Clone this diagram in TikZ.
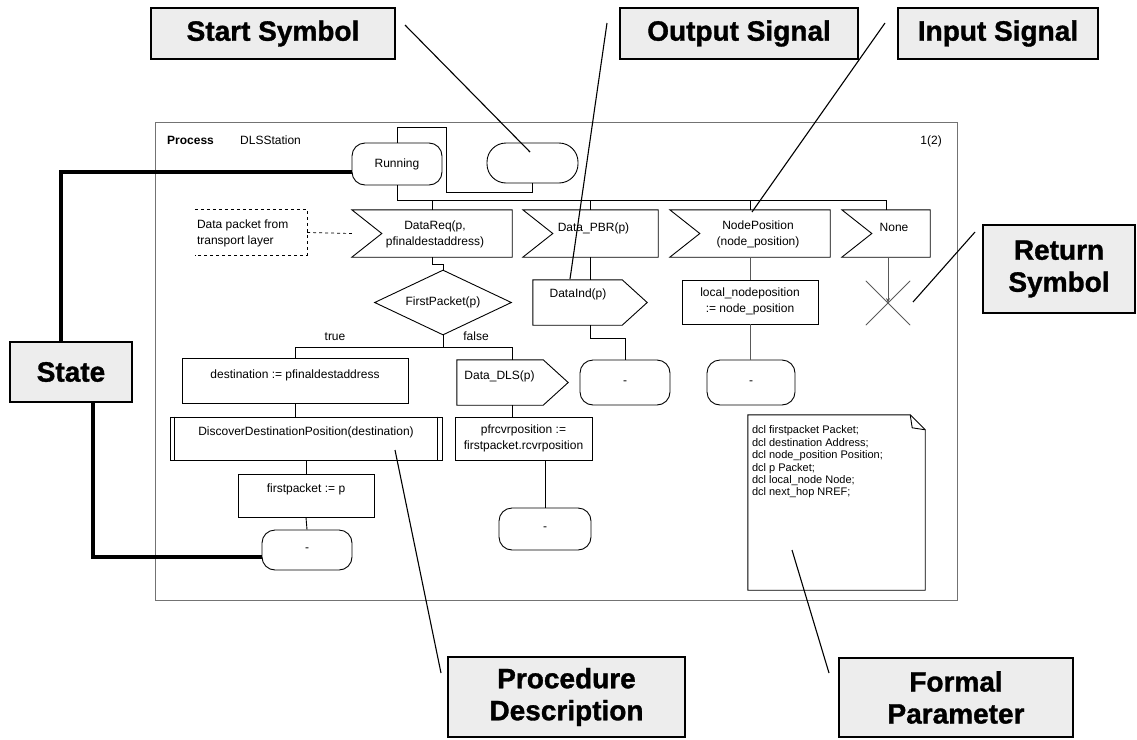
\documentclass[tikz,border=0pt]{standalone}
\usepackage{fontspec}
\setmainfont{Liberation Sans}
\newfontfamily\calloutfont[UprightFeatures={FakeBold=1.2}]{Liberation Sans Bold}
\usetikzlibrary{shapes.geometric,calc,arrows.meta}

\tikzset{
  ghost/.style={draw=none, inner sep=0pt, rectangle},
  sym/.style={draw=black, line width=0.9pt, inner sep=0pt, rectangle},
  statebox/.style={sym, rounded corners=13pt},
  txt/.style={font=\fontsize{12}{16}\selectfont, inner sep=0pt, align=center},
  notetxt/.style={font=\fontsize{11}{12.4}\selectfont, inner sep=0pt, align=left},
  flow/.style={draw=black, line width=0.9pt},
  faint/.style={draw=black!65, line width=0.8pt},
  callout/.style={draw=black, line width=2pt, fill=black!7, inner sep=0pt,
    font=\fontsize{28}{32}\calloutfont, align=center},
  leader/.style={draw=black, line width=1.1pt},
  heavy/.style={draw=black, line width=3.6pt},
}

% SDL input symbol: notch cut into the left side
\newcommand\inputsig[1]{%
  \draw[flow] (#1.north west) -- (#1.north east) -- (#1.south east)
    -- (#1.south west) -- ($(#1.west)+(30,0)$) -- cycle;}
% SDL output symbol: pointed right side
\newcommand\outputsig[1]{%
  \draw[flow] (#1.north west) -- ($(#1.north east)+(-25,0)$) -- (#1.east)
    -- ($(#1.south east)+(-25,0)$) -- (#1.south west) -- cycle;}

\begin{document}
\begin{tikzpicture}[x=1pt,y=-1pt]
\useasboundingbox (0,0) rectangle (1137,739);

% process frame
\node[ghost, draw=black!55, line width=0.8pt, minimum width=802, minimum height=478] (frame) at (556,361) {};
\node[anchor=base west, inner sep=0pt, font=\fontsize{12}{14}\selectfont\bfseries] (kw) at (167,144) {Process};
\node[anchor=base west, inner sep=0pt, font=\fontsize{12}{14}\selectfont] (pname) at (240,144) {DLSStation};
\node[anchor=base east, inner sep=0pt, font=\fontsize{12}{14}\selectfont] (page) at (942,144) {1(2)};

% start symbol and first state
\node[sym, rounded corners=19pt, minimum width=91, minimum height=40] (start) at (532.5,163) {};
\node[statebox, minimum width=90, minimum height=42, txt] (running) at (397,164) {Running};
\draw[flow] (start.south) -- ++(0,9) -| (446,127) -| (running.north);

% input signals
\coordinate (bus) at (0,200);
\node[ghost, minimum width=160, minimum height=47] (datareq) at (432,233.5) {};
\node[ghost, minimum width=135, minimum height=47] (datapbr) at (590.5,233.5) {};
\node[ghost, minimum width=160, minimum height=47] (nodepos) at (750,233.5) {};
\node[ghost, minimum width=88, minimum height=47] (none) at (886,233.5) {};
\inputsig{datareq}\inputsig{datapbr}\inputsig{nodepos}\inputsig{none}
\node[txt, anchor=north] (datareq-t) at ($(datareq.north)+(3,11)$) {DataReq(p,\\pfinaldestaddress)};
\node[txt, anchor=north] (datapbr-t) at ($(datapbr.north)+(3,13)$) {Data\_PBR(p)};
\node[txt, anchor=north] (nodepos-t) at ($(nodepos.north)+(8,11)$) {NodePosition\\(node\_position)};
\node[txt, anchor=north] (none-t) at ($(none.north)+(8,13)$) {None};
\draw[flow] (running.south) -- (running.south |- bus) -- (none.north |- bus);
\foreach \s in {datareq,datapbr,nodepos,none}
  \draw[flow] (\s.north |- bus) -- (\s.north);

% comment attached to DataReq
\node[ghost, minimum width=112, minimum height=45] (comment) at (251,232.5) {};
\draw[flow, dashed, line width=0.7pt] (comment.north west) -- (comment.north east) -- (comment.south east) -- (comment.south west);
\node[txt, align=left, anchor=north west] (comment-t) at ($(comment.north west)+(2,10)$) {Data packet from\\transport layer};
\draw[flow, dashed, line width=0.7pt] (comment.east) -- (datareq.west);

% decision
\node[sym, shape=diamond, aspect=2.1, minimum width=137, minimum height=65, txt] (first) at (443,302.5) {FirstPacket(p)};
\draw[flow] (datareq.south) -- ++(0,7) -| (first.north);
\coordinate (bus2) at (0,347);
\node[txt, anchor=south] (true-l) at (335,341) {true};
\node[txt, anchor=south] (false-l) at (476,341) {false};

% true branch
\node[sym, minimum width=226, minimum height=45] (dest) at (295,380.5) {};
\node[txt, anchor=north] (dest-t) at ($(dest.north)+(0,12)$) {destination := pfinaldestaddress};
\node[sym, minimum width=272, minimum height=43] (proc) at (306,438.5) {};
\draw[flow] ($(proc.north west)+(5,0)$) -- ($(proc.south west)+(5,0)$);
\draw[flow] ($(proc.north east)+(-5,0)$) -- ($(proc.south east)+(-5,0)$);
\node[txt, anchor=north] (proc-t) at ($(proc.north)+(0,10)$) {DiscoverDestinationPosition(destination)};
\node[sym, minimum width=136, minimum height=43] (fp) at (306,495.5) {};
\node[txt, anchor=north] (fp-t) at ($(fp.north)+(0,10)$) {firstpacket := p};
\node[statebox, minimum width=90, minimum height=40, txt] (state1) at (307,550) {-};

% false branch
\node[ghost, minimum width=111, minimum height=45] (datadls) at (512.5,382.5) {};
\outputsig{datadls}
\node[txt, anchor=north] (datadls-t) at ($(datadls.north)+(-13,11)$) {Data\_DLS(p)};
\node[sym, minimum width=137, minimum height=43] (pfr) at (523.5,438.5) {};
\node[txt, anchor=north] (pfr-t) at ($(pfr.north)+(0,8)$) {pfrcvrposition :=\\firstpacket.rcvrposition};
\node[statebox, minimum width=92, minimum height=42, txt] (state2) at (545,529) {-};

\draw[flow] (first.south) -- (first.south |- bus2);
\draw[flow] (dest.north |- bus2) -- (datadls.north |- bus2);
\draw[flow] (dest.north |- bus2) -- (dest.north);
\draw[flow] (datadls.north |- bus2) -- (datadls.north);
\draw[flow] (dest.south) -- (dest.south |- proc.north);
\draw[flow] (fp.north |- proc.south) -- (fp.north);
\draw[flow] (fp.south) -- (state1.north);
\draw[flow] (datadls.south) -- (datadls.south |- pfr.north);
\draw[flow] (state2.north |- pfr.south) -- (state2.north);

% Data_PBR branch
\node[ghost, minimum width=114, minimum height=45] (dataind) at (590,302.5) {};
\outputsig{dataind}
\node[txt, anchor=north] (dataind-t) at ($(dataind.north)+(-12,9)$) {DataInd(p)};
\node[statebox, minimum width=90, minimum height=45, txt] (state3) at (625,382.5) {-};
\coordinate (jog) at (0,338);
\draw[flow] (datapbr.south) -- (datapbr.south |- dataind.north);
\draw[flow] (dataind.south) -- (dataind.south |- jog) -| (state3.north);

% NodePosition branch
\node[sym, minimum width=136, minimum height=44] (local) at (750,302) {};
\node[txt, anchor=north] (local-t) at ($(local.north)+(0,8)$) {local\_nodeposition\\:= node\_position};
\node[statebox, minimum width=88, minimum height=45, txt] (state4) at (751,382.5) {-};
\draw[faint] (nodepos.south) -- (local.north);
\draw[faint] (local.south) -- (local.south |- state4.north);

% None branch ends in a return
\node[ghost, minimum width=44, minimum height=44] (ret) at (888,303) {};
\draw[faint] (ret.north west) -- (ret.south east);
\draw[faint] (ret.north east) -- (ret.south west);
\draw[faint, -{Stealth[length=5pt,width=4pt]}] (none.south -| ret.center) -- (ret.center);

% declarations
\node[ghost, minimum width=177, minimum height=175] (note) at (836.5,502.5) {};
\draw[flow] (note.north west) -- ($(note.north east)+(-15,0)$) -- ($(note.north east)+(0,15)$)
  -- (note.south east) -- (note.south west) -- cycle;
\draw[flow] ($(note.north east)+(-15,0)$) -- ($(note.north east)+(-13,13)$) -- ($(note.north east)+(0,15)$);
\node[notetxt, anchor=north west] (note-t) at ($(note.north west)+(4,11)$)
  {dcl firstpacket Packet;\\dcl destination Address;\\dcl node\_position Position;\\dcl p Packet;\\dcl local\_node Node;\\dcl next\_hop NREF;};

% callouts
\node[callout, minimum width=244, minimum height=51] (startcall) at (273,33.5) {Start Symbol};
\node[callout, minimum width=238, minimum height=51] (outcall) at (739,33.5) {Output Signal};
\node[callout, minimum width=200, minimum height=51] (incall) at (998,33.5) {Input Signal};
\node[callout, minimum width=152, minimum height=88] (retcall) at (1059,269) {Return\\Symbol};
\node[callout, minimum width=122, minimum height=60] (statecall) at (71,372) {State};
\node[callout, minimum width=237, minimum height=80] (proccall) at (566.5,697) {Procedure\\Description};
\node[callout, minimum width=234, minimum height=79] (formcall) at (956,697.5) {Formal\\Parameter};

\coordinate (sc-a) at (405,25);  \coordinate (sc-b) at (530,152);
\coordinate (oc-a) at (607,23);  \coordinate (oc-b) at (570,279);
\coordinate (ic-a) at (885,23);  \coordinate (ic-b) at (752,212);
\coordinate (rc-a) at (975,232); \coordinate (rc-b) at (913,302);
\coordinate (pc-a) at (441,673); \coordinate (pc-b) at (395,450);
\coordinate (fc-a) at (829,673); \coordinate (fc-b) at (792,550);
\draw[leader] (sc-a) -- (sc-b);
\draw[leader] (oc-a) -- (oc-b);
\draw[leader] (ic-a) -- (ic-b);
\draw[leader] (rc-a) -- (rc-b);
\draw[leader] (pc-a) -- (pc-b);
\draw[leader] (fc-a) -- (fc-b);

\draw[heavy] ($(statecall.north)+(-10,0)$) |- ($(running.west)+(0,8)$);
\draw[heavy] ($(statecall.south)+(22,0)$) |- ($(state1.west)+(0,7)$);
\end{tikzpicture}
\end{document}
